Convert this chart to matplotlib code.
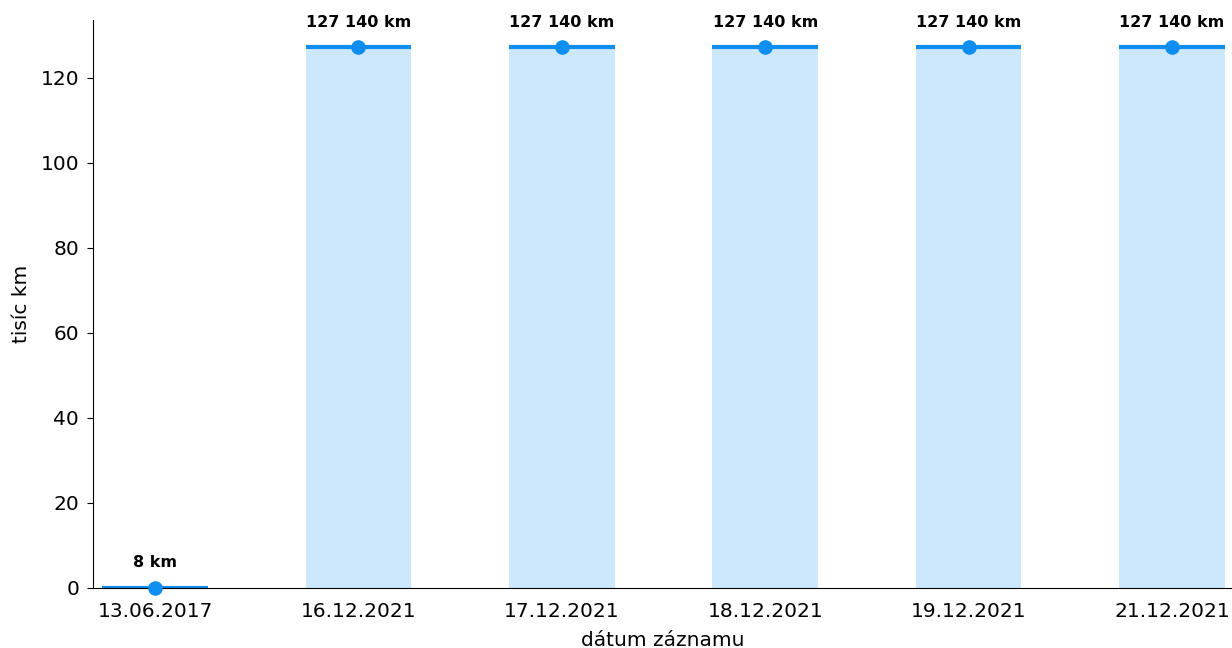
import matplotlib
matplotlib.use("Agg")
import matplotlib.pyplot as plt

dates = ["13.06.2017", "16.12.2021", "17.12.2021", "18.12.2021", "19.12.2021", "21.12.2021"]
km = [8, 127140, 127140, 127140, 127140, 127140]
labels = ["8 km", "127 140 km", "127 140 km", "127 140 km", "127 140 km", "127 140 km"]

vals = [v / 1000 for v in km]
x = list(range(len(dates)))

fig = plt.figure(figsize=(12.32, 6.48), dpi=100)
ax = fig.add_axes([0.0755, 0.0926, 0.9245, 0.8765])

width = 0.52
line_c = "#0d8ef0"
fill_c = "#cde8fc"
ax.bar(x, vals, width=width, color=fill_c, zorder=1)
for xi, v, lab in zip(x, vals, labels):
    ax.hlines(v, xi - width / 2, xi + width / 2, color=line_c, linewidth=3, zorder=2)
    ax.plot([xi], [v], "o", color=line_c, markersize=9.5, zorder=3, clip_on=False)
    ax.annotate(lab, (xi, v), xytext=(0, 18), textcoords="offset points",
                ha="center", va="center", fontsize=11.5, fontweight="bold")

ax.set_xlim(-0.305, 5.295)
ax.set_ylim(0, 133.6)
ax.set_xticks(x)
ax.set_xticklabels(dates)
ax.set_yticks([0, 20, 40, 60, 80, 100, 120])
ax.tick_params(labelsize=14.5)
ax.tick_params(axis="x", length=0, pad=10)
ax.tick_params(axis="y", length=4, pad=6)
ax.set_xlabel("dátum záznamu", fontsize=14.5, labelpad=7)
ax.set_ylabel("tisíc km", fontsize=14.5, labelpad=7)
for s in ["top", "right"]:
    ax.spines[s].set_visible(False)

fig.savefig("out.png", dpi=100)
